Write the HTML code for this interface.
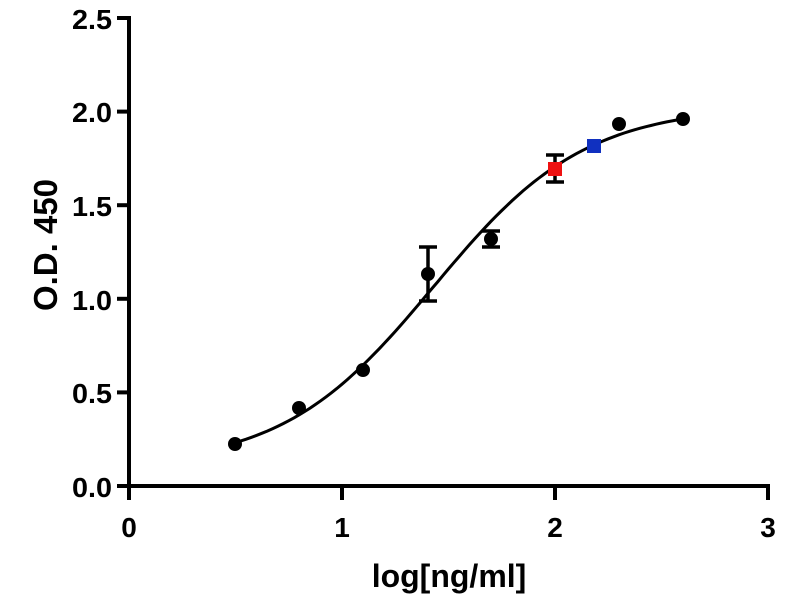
<!DOCTYPE html>
<html><head><meta charset="utf-8"><style>
body{margin:0;background:#fff;}
svg text{font-family:"Liberation Sans",Arial,sans-serif;font-weight:bold;fill:#000;}
</style></head><body>
<svg id="s" width="800" height="600" xmlns="http://www.w3.org/2000/svg">
<g stroke="#000" stroke-width="4" fill="none">
<line x1="129" y1="16" x2="129" y2="488"/>
<line x1="127" y1="486" x2="770" y2="486"/>
<line x1="117" y1="18" x2="129" y2="18"/>
<line x1="117" y1="111.6" x2="129" y2="111.6"/>
<line x1="117" y1="205.2" x2="129" y2="205.2"/>
<line x1="117" y1="298.8" x2="129" y2="298.8"/>
<line x1="117" y1="392.4" x2="129" y2="392.4"/>
<line x1="117" y1="486" x2="129" y2="486"/>
<line x1="129" y1="486" x2="129" y2="500"/>
<line x1="342" y1="486" x2="342" y2="500"/>
<line x1="555" y1="486" x2="555" y2="500"/>
<line x1="768" y1="486" x2="768" y2="500"/>
</g>
<g font-size="28" text-anchor="end">
<text x="112" y="29" textLength="40" lengthAdjust="spacingAndGlyphs">2.5</text>
<text x="112" y="122" textLength="40" lengthAdjust="spacingAndGlyphs">2.0</text>
<text x="112" y="216" textLength="40" lengthAdjust="spacingAndGlyphs">1.5</text>
<text x="112" y="310" textLength="40" lengthAdjust="spacingAndGlyphs">1.0</text>
<text x="112" y="403" textLength="40" lengthAdjust="spacingAndGlyphs">0.5</text>
<text x="112" y="497" textLength="40" lengthAdjust="spacingAndGlyphs">0.0</text>
</g>
<g font-size="28" text-anchor="middle">
<text x="129" y="537">0</text>
<text x="342" y="537">1</text>
<text x="555" y="537">2</text>
<text x="768" y="537">3</text>
<text x="449" y="587" font-size="32">log[ng/ml]</text>
<text transform="translate(57,245) rotate(-90)" font-size="33">O.D. 450</text>
</g>
<path id="c" stroke="#000" stroke-width="3" fill="none" d=""/>
<g stroke="#000" stroke-width="3.5">
<line x1="428" y1="247" x2="428" y2="301"/><line x1="419" y1="247" x2="437" y2="247"/><line x1="419" y1="301" x2="437" y2="301"/>
<line x1="491" y1="231" x2="491" y2="247"/><line x1="482" y1="231" x2="500" y2="231"/><line x1="482" y1="247" x2="500" y2="247"/>
<line x1="555" y1="155" x2="555" y2="182"/><line x1="546" y1="155" x2="564" y2="155"/><line x1="546" y1="182" x2="564" y2="182"/>
</g>
<g fill="#000">
<circle cx="235" cy="444" r="7"/>
<circle cx="299" cy="408" r="7"/>
<circle cx="363" cy="370" r="7"/>
<circle cx="428" cy="274" r="7"/>
<circle cx="491" cy="239" r="7"/>
<circle cx="619" cy="124" r="7"/>
<circle cx="683" cy="119" r="7"/>
</g>
<rect x="548" y="162" width="14" height="14" fill="#ee1111"/>
<rect x="587" y="139" width="14" height="14" fill="#1030c0"/>
<script>
var d="";for(var i=0;i<=84;i++){var x=0.5+i*0.025;var y=0.1+1.93/(1+Math.pow(10,(1.43-x)*1.22));var px=129+x*213,py=486-y*187.2;d+=(i?"L":"M")+px.toFixed(1)+","+py.toFixed(1);}
document.getElementById("c").setAttribute("d",d);
</script>
</svg>
</body></html>
